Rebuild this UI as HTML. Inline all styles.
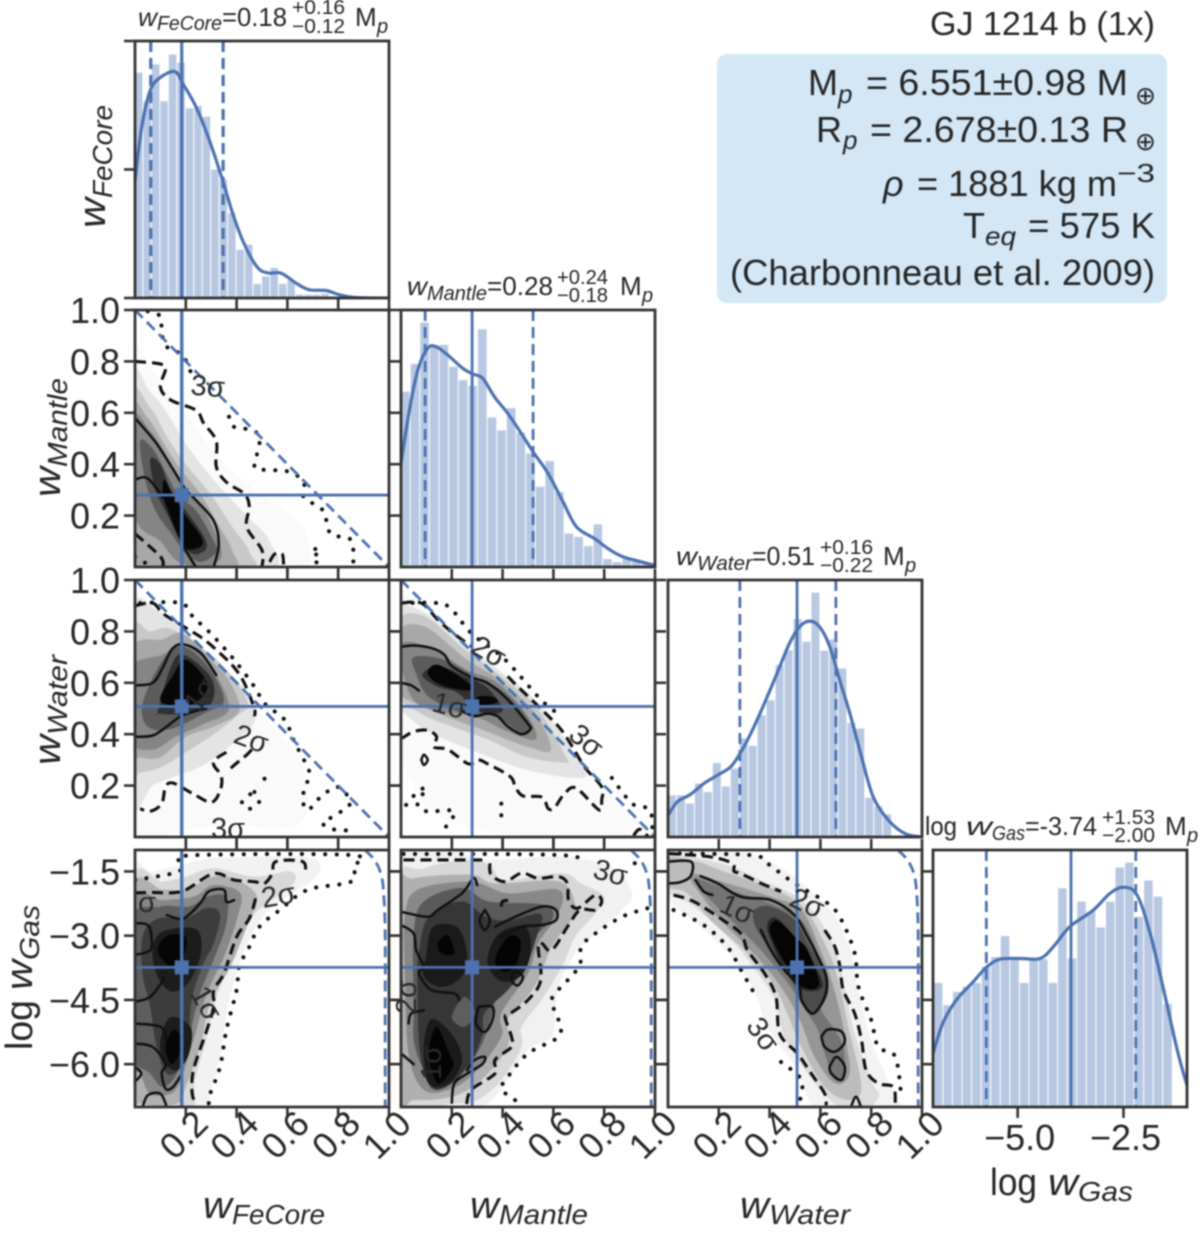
<!DOCTYPE html>
<html lang="en">
<head>
<meta charset="utf-8">
<title>GJ 1214 b corner plot</title>
<style>
html,body{margin:0;padding:0;background:#fff;}
#figure{display:block;width:1200px;height:1234px;filter:blur(0.7px);}
text{font-family:"Liberation Sans","DejaVu Sans",sans-serif;fill:#262626;}
.it{font-style:italic;}
.t26{font-size:26px;}
.t19{font-size:20px;}
.l38{font-size:38px;}
.l28{font-size:28px;}
.box{font-size:36px;}
.boxsub{font-size:26px;font-style:italic;}
.sig{font-size:29px;fill:#2a2a2a;}
</style>
</head>
<body>
<svg id="figure" xmlns="http://www.w3.org/2000/svg" width="1200" height="1234" viewBox="0 0 1200 1234">
<rect x="0" y="0" width="1200" height="1234" fill="#ffffff"/>
<g id="chart-layer"></g>

<g>
<text class="it t26" x="138" y="26" textLength="19" lengthAdjust="spacingAndGlyphs">w</text>
<text class="it t19" x="157" y="30" textLength="65" lengthAdjust="spacingAndGlyphs">FeCore</text>
<text class="t26" x="222" y="26" textLength="65" lengthAdjust="spacingAndGlyphs">=0.18</text>
<text class="t19" x="292" y="14" textLength="53" lengthAdjust="spacingAndGlyphs">+0.16</text>
<text class="t19" x="292" y="33" textLength="53" lengthAdjust="spacingAndGlyphs">−0.12</text>
<text class="t26" x="355" y="26">M</text>
<text class="it t19" x="377" y="33">p</text>
</g>
<g>
<text class="it t26" x="407" y="295" textLength="20" lengthAdjust="spacingAndGlyphs">w</text>
<text class="it t19" x="427" y="300" textLength="60" lengthAdjust="spacingAndGlyphs">Mantle</text>
<text class="t26" x="487" y="295" textLength="66" lengthAdjust="spacingAndGlyphs">=0.28</text>
<text class="t19" x="557" y="284" textLength="51" lengthAdjust="spacingAndGlyphs">+0.24</text>
<text class="t19" x="557" y="302" textLength="51" lengthAdjust="spacingAndGlyphs">−0.18</text>
<text class="t26" x="620" y="295">M</text>
<text class="it t19" x="642" y="302">p</text>
</g>
<g>
<text class="it t26" x="676" y="565" textLength="21" lengthAdjust="spacingAndGlyphs">w</text>
<text class="it t19" x="697" y="570" textLength="55" lengthAdjust="spacingAndGlyphs">Water</text>
<text class="t26" x="752" y="565" textLength="63" lengthAdjust="spacingAndGlyphs">=0.51</text>
<text class="t19" x="820" y="554" textLength="53" lengthAdjust="spacingAndGlyphs">+0.16</text>
<text class="t19" x="820" y="572" textLength="53" lengthAdjust="spacingAndGlyphs">−0.22</text>
<text class="t26" x="883" y="565">M</text>
<text class="it t19" x="905" y="572">p</text>
</g>
<g>
<text class="t26" x="925" y="835" textLength="32" lengthAdjust="spacingAndGlyphs">log</text>
<text class="it t26" x="966" y="835" textLength="26" lengthAdjust="spacingAndGlyphs">w</text>
<text class="it t19" x="992" y="840" textLength="33" lengthAdjust="spacingAndGlyphs">Gas</text>
<text class="t26" x="1025" y="835" textLength="72" lengthAdjust="spacingAndGlyphs">=-3.74</text>
<text class="t19" x="1102" y="824" textLength="53" lengthAdjust="spacingAndGlyphs">+1.53</text>
<text class="t19" x="1102" y="842" textLength="53" lengthAdjust="spacingAndGlyphs">−2.00</text>
<text class="t26" x="1165" y="835">M</text>
<text class="it t19" x="1187" y="842">p</text>
</g>

<g transform="translate(105,228) rotate(-90)">
<text class="it l38" x="0" y="0" textLength="30" lengthAdjust="spacingAndGlyphs">w</text>
<text class="it l28" x="30" y="7" textLength="93" lengthAdjust="spacingAndGlyphs">FeCore</text>
</g>
<g transform="translate(60,497) rotate(-90)">
<text class="it l38" x="0" y="0" textLength="30" lengthAdjust="spacingAndGlyphs">w</text>
<text class="it l28" x="30" y="7" textLength="89" lengthAdjust="spacingAndGlyphs">Mantle</text>
</g>
<g transform="translate(60,765) rotate(-90)">
<text class="it l38" x="0" y="0" textLength="30" lengthAdjust="spacingAndGlyphs">w</text>
<text class="it l28" x="30" y="7" textLength="80" lengthAdjust="spacingAndGlyphs">Water</text>
</g>
<g transform="translate(32,1050) rotate(-90)">
<text class="l38" x="0" y="0" textLength="50" lengthAdjust="spacingAndGlyphs">log</text>
<text class="it l38" x="60" y="0" textLength="30" lengthAdjust="spacingAndGlyphs">w</text>
<text class="it l28" x="90" y="7" textLength="55" lengthAdjust="spacingAndGlyphs">Gas</text>
</g>

<g>
<text class="it l38" x="203" y="1218" textLength="29" lengthAdjust="spacingAndGlyphs">w</text>
<text class="it l28" x="232" y="1224" textLength="93" lengthAdjust="spacingAndGlyphs">FeCore</text>
</g>
<g>
<text class="it l38" x="470" y="1218" textLength="29" lengthAdjust="spacingAndGlyphs">w</text>
<text class="it l28" x="499" y="1224" textLength="89" lengthAdjust="spacingAndGlyphs">Mantle</text>
</g>
<g>
<text class="it l38" x="740" y="1218" textLength="29" lengthAdjust="spacingAndGlyphs">w</text>
<text class="it l28" x="769" y="1224" textLength="81" lengthAdjust="spacingAndGlyphs">Water</text>
</g>
<g>
<text class="l38" x="990" y="1195" textLength="47" lengthAdjust="spacingAndGlyphs">log</text>
<text class="it l38" x="1048" y="1195" textLength="30" lengthAdjust="spacingAndGlyphs">w</text>
<text class="it l28" x="1078" y="1201" textLength="55" lengthAdjust="spacingAndGlyphs">Gas</text>
</g>

<text x="930" y="35" font-size="33" textLength="225" lengthAdjust="spacingAndGlyphs">GJ 1214 b (1x)</text>
<g>
<rect x="717" y="54" width="450" height="249" rx="10" ry="10" fill="#d3e7f6"/>
<g>
<text class="box" x="808" y="95">M</text>
<text class="boxsub" x="838" y="103">p</text>
<text class="box" x="866" y="95" textLength="262" lengthAdjust="spacingAndGlyphs">= 6.551±0.98 M</text>
<text x="1135" y="104" font-size="25" style="font-family:'DejaVu Sans',sans-serif">⊕</text>
</g>
<g>
<text class="box" x="816" y="142">R</text>
<text class="boxsub" x="843" y="149">p</text>
<text class="box" x="870" y="142" textLength="258" lengthAdjust="spacingAndGlyphs">= 2.678±0.13 R</text>
<text x="1135" y="150" font-size="25" style="font-family:'DejaVu Sans',sans-serif">⊕</text>
</g>
<g>
<text class="box it" x="883" y="196">ρ</text>
<text class="box" x="917" y="196" textLength="200" lengthAdjust="spacingAndGlyphs">= 1881 kg m</text>
<text x="1117" y="182" font-size="26" textLength="38" lengthAdjust="spacingAndGlyphs">−3</text>
</g>
<g>
<text class="box" x="963" y="238">T</text>
<text class="boxsub" x="985" y="245" textLength="31" lengthAdjust="spacingAndGlyphs">eq</text>
<text class="box" x="1028" y="238" textLength="127" lengthAdjust="spacingAndGlyphs">= 575 K</text>
</g>
<text class="box" x="730" y="285" textLength="425" lengthAdjust="spacingAndGlyphs">(Charbonneau et al. 2009)</text>
</g>

<g>
<text class="sig" text-anchor="middle" transform="translate(207,396) rotate(5)">3σ</text>
<text class="sig" text-anchor="middle" transform="translate(208,700) rotate(-55)">1σ</text>
<text class="sig" text-anchor="middle" transform="translate(248,748) rotate(20)">2σ</text>
<text class="sig" text-anchor="middle" transform="translate(228,838)">3σ</text>
<text class="sig" text-anchor="middle" transform="translate(484,660) rotate(30)">2σ</text>
<text class="sig" text-anchor="middle" transform="translate(447,715) rotate(15)">1σ</text>
<text class="sig" text-anchor="middle" transform="translate(580,748) rotate(40)">3σ</text>
<text class="sig" text-anchor="middle" transform="translate(147,912)">σ</text>
<text class="sig" text-anchor="middle" transform="translate(280,905) rotate(-10)">2σ</text>
<text class="sig" text-anchor="middle" transform="translate(198,1008) rotate(60)">1σ</text>
<text class="sig" text-anchor="middle" transform="translate(608,882) rotate(15)">3σ</text>
<text class="sig" text-anchor="middle" transform="translate(416,997) rotate(-90)">2σ</text>
<text class="sig" text-anchor="middle" transform="translate(441,1063) rotate(-90)">1σ</text>
<text class="sig" text-anchor="middle" transform="translate(803,912) rotate(25)">2σ</text>
<text class="sig" text-anchor="middle" transform="translate(733,918) rotate(25)">1σ</text>
<text class="sig" text-anchor="middle" transform="translate(755,1040) rotate(55)">3σ</text>
</g>
</svg>

<script>
const feCoreStats = [0.184, 0.062, 0.347];
const mantleStats = [0.28, 0.095, 0.52];
const waterStats = [0.508, 0.283, 0.661];
const gasStats = [-3.74, -5.74, -2.21];

/* ---------- tick values and labels ---------- */
const fractionTicks = [0.2, 0.4, 0.6, 0.8, 1.0];
const fractionTickLabels = ['0.2', '0.4', '0.6', '0.8', '1.0'];
const gasYTicks = [-1.5, -3.0, -4.5, -6.0];
const gasYTickLabels = ['−1.5', '−3.0', '−4.5', '−6.0'];
const gasXTicks = [-5.0, -2.5];
const gasXTickLabels = ['−5.0', '−2.5'];
const feCoreDensityTicks = [0, 0.5, 1];

/* ---------- histograms: bin start, bin width, bar values ---------- */
const feCoreBinStart = 0;
const feCoreBinWidth = 0.03333;
const feCoreBars = [.877,.766,.909,.766,.948,.916,.738,.747,.705,.5,.46,.33,.188,.208,.055,.084,.117,.055,.068,.013,.013,.013,.016,.006,.003];
const feCoreKdeX = [0,.026,.059,.098,.157,.19,.242,.294,.346,.386,.431,.484,.529,.575,.634,.686,.752,.804,.856,.948,1];
const feCoreKdeY = [.455,.662,.805,.857,.881,.831,.74,.61,.455,.325,.208,.117,.097,.097,.058,.032,.029,.013,.003,0,0];

const mantleBinStart = 0;
const mantleBinWidth = 0.0379;
const mantleBars = [.682,.79,.951,.864,.864,.779,.727,.705,.925,.582,.532,.618,.523,.442,.312,.412,.292,.13,.117,.081,.166,.031,.019,.036,.026,.013];
const mantleKdeX = [0,.033,.066,.105,.138,.184,.243,.283,.322,.368,.421,.474,.52,.579,.638,.691,.763,.816,.868,.934,1];
const mantleKdeY = [.403,.61,.766,.851,.857,.825,.773,.751,.734,.662,.597,.519,.448,.364,.253,.156,.11,.071,.042,.023,.006];

const waterBinStart = 0;
const waterBinWidth = 0.0353;
const waterBars = [.162,.162,.13,.208,.175,.288,.197,.266,.383,.355,.474,.532,.669,.727,.848,.76,.951,.725,.769,.656,.444,.422,.153,.119,.088];
const waterKdeX = [0,.036,.089,.141,.194,.247,.287,.326,.379,.432,.478,.518,.557,.597,.637,.676,.716,.762,.808,.868,.934,1];
const waterKdeY = [.084,.136,.166,.208,.24,.273,.331,.403,.519,.643,.753,.818,.84,.818,.74,.61,.481,.312,.156,.065,.013,0];

const gasBinStart = -6.98;
const gasBinWidth = 0.2258;
const gasBars = [.483,.396,.448,.468,.483,.545,.584,.665,.584,.483,.575,.575,.483,.851,.578,.799,.76,.699,.799,.932,.951,.74,.881,.818,.4];
const gasKdeX = [-7,-6.77,-6.45,-6.05,-5.73,-5.42,-4.95,-4.47,-4.16,-3.77,-3.21,-2.82,-2.5,-2.18,-1.87,-1.55,-1.23,-1];
const gasKdeY = [.208,.325,.416,.487,.545,.575,.578,.578,.623,.701,.766,.831,.855,.825,.675,.455,.221,.084];

/* ---------- composition boundaries ---------- */
const linearBoundary = [[0,1],[1,0]];
const gasBoundary = [[.905,-1],[.945,-1.25],[.97,-1.6],[.98,-2.1],[.985,-3],[.985,-5],[.985,-7]];

/* ---------- panel: mantle vs FeCore ---------- */
const mantleFeCoreLevels = [
 [[[-.02,.82],[.1,.72],[.2,.6],[.3,.46],[.4,.36],[.5,.28],[.62,.2],[.68,.1],[.62,-.02],[-.02,-.02]]],
 [[[-.02,.74],[.06,.68],[.12,.61],[.2,.48],[.3,.35],[.42,.22],[.53,.1],[.52,-.02],[-.02,-.02]]],
 [[[-.02,.66],[.06,.62],[.13,.5],[.2,.4],[.3,.28],[.38,.16],[.45,.06],[.44,-.02],[-.02,-.02]]],
 [[[-.02,.62],[.05,.58],[.12,.47],[.18,.38],[.26,.28],[.33,.16],[.38,.07],[.38,-.02],[.02,-.02],[-.02,.1]]],
 [[[-.01,.58],[.06,.53],[.12,.44],[.18,.32],[.26,.24],[.32,.12],[.34,.04],[.28,0],[.17,.02],[.1,.1],[0,.2]]],
 [[[.02,.49],[.07,.46],[.12,.37],[.17,.28],[.24,.22],[.3,.12],[.32,.06],[.26,.02],[.2,.05],[.15,.12],[.08,.22],[.04,.34]]],
 [[[.06,.42],[.1,.4],[.14,.3],[.2,.22],[.27,.12],[.28,.07],[.23,.05],[.18,.1],[.13,.2],[.08,.3]]],
 [[[.115,.34],[.15,.28],[.2,.2],[.26,.12],[.26,.08],[.2,.07],[.17,.12],[.13,.22],[.11,.28]]]
];
const mantleFeCoreSolid = [
 [[0,.58],[.085,.48],[.15,.38],[.2,.3],[.24,.26],[.31,.18],[.33,.09],[.31,0]],
 [[0,.34],[.05,.345],[.11,.27]],
 [[.18,.1],[.22,.03],[.24,0]]
];
const mantleFeCoreDashed = [
 [[0,.8],[.1,.79],[.12,.77],[.1,.7],[.14,.65],[.24,.61],[.27,.56],[.32,.49],[.32,.39],[.36,.33],[.43,.285],[.45,.235],[.44,.155],[.5,.065],[.5,0]],
 [[0,.13],[.1,.04],[.11,0]],
 [[.53,.02],[.55,.05],[.58,.05],[.585,0]]
];
const mantleFeCoreDotted = [
 [[.05,.995],[.1,.975],[.105,.91],[.125,.857],[.19,.82],[.23,.73]],
 [[.37,.585],[.39,.545],[.47,.53],[.49,.48],[.47,.4],[.49,.38],[.61,.37],[.665,.325],[.665,.27],[.74,.22],[.77,.13],[.85,.105],[.86,.01]],
 [[0,.04],[.05,.01]],
 [[.71,.07],[.73,.05],[.7,.045],[.72,.01]]
];

/* ---------- panel: water vs FeCore ---------- */
const waterFeCoreLevels = [
 [[[-.02,.9],[.08,.88],[.2,.76],[.32,.64],[.45,.52],[.55,.42],[.65,.3],[.68,.18],[.66,.06],[.55,.03],[.4,.05],[.3,.04],[.15,.02],[-.02,0]]],
 [[[-.02,.87],[.09,.88],[.19,.8],[.33,.68],[.46,.54],[.47,.45],[.38,.36],[.27,.28],[.17,.24],[.07,.2],[-.02,.13]]],
 [[[-.02,.8],[.06,.8],[.14,.81],[.27,.73],[.37,.64],[.445,.52],[.4,.47],[.31,.4],[.2,.33],[.1,.27],[.02,.25],[-.02,.24]]],
 [[[-.02,.72],[.11,.77],[.19,.79],[.3,.69],[.375,.6],[.41,.49],[.31,.43],[.2,.39],[.1,.31],[.02,.31],[-.02,.32]]],
 [[[-.02,.65],[.11,.71],[.2,.75],[.3,.66],[.37,.5],[.27,.44],[.16,.39],[.07,.34],[-.02,.38]]],
 [[[.03,.52],[.11,.69],[.19,.74],[.29,.66],[.35,.53],[.27,.48],[.14,.42],[.05,.43]]],
 [[[.09,.49],[.14,.66],[.19,.71],[.3,.62],[.3,.52],[.2,.48],[.09,.48]]],
 [[[.1,.53],[.15,.63],[.2,.69],[.28,.61],[.27,.55],[.2,.51]]]
];
const waterFeCoreSolid = [
 [[0,.59],[.07,.6],[.11,.66],[.145,.73],[.19,.75],[.26,.715],[.32,.63]],
 [[0,.39],[.07,.395],[.125,.43],[.18,.47],[.24,.49],[.28,.5]]
];
const waterFeCoreDashed = [
 [[0,.9],[.07,.91],[.11,.87],[.19,.82],[.27,.77],[.34,.71],[.39,.66],[.43,.6],[.47,.5],[.47,.47]],
 [[.46,.34],[.44,.32],[.38,.27],[.37,.25]],
 [[.36,.33],[.32,.305],[.31,.28],[.34,.235],[.335,.18],[.3,.135],[.225,.17],[.15,.21],[.12,.195],[.105,.13],[.06,.1],[.02,.11]]
];
const waterFeCoreDotted = [
 [[.02,.91],[.18,.91],[.23,.855],[.3,.79],[.39,.69],[.47,.585],[.51,.52],[.59,.455],[.625,.375],[.68,.27],[.685,.235],[.66,.155],[.68,.105],[.73,.155],[.795,.195],[.84,.155],[.84,.12],[.755,.065],[.74,.05],[.78,.03],[.85,.025]],
 [[.47,.175],[.49,.14],[.455,.11],[.42,.13],[.445,.16],[.47,.175]],
 [[.51,.227],[.512,.224]]
];

/* ---------- panel: water vs mantle ---------- */
const waterMantleLevels = [
 [[[-.02,.9],[.1,.9],[.24,.78],[.4,.66],[.54,.52],[.7,.31],[.83,.155],[1,0],[.9,-.02],[.6,0],[.35,.02],[.13,.09],[.05,.2],[-.02,.4]]],
 [[[-.02,.87],[.08,.88],[.24,.755],[.37,.66],[.54,.52],[.71,.28],[.705,.23],[.5,.26],[.3,.33],[.15,.39],[.05,.45],[-.02,.55]]],
 [[[-.02,.83],[.09,.86],[.25,.73],[.38,.635],[.53,.51],[.65,.31],[.64,.29],[.5,.31],[.34,.38],[.2,.43],[.08,.48],[-.02,.57]]],
 [[[-.02,.79],[.09,.82],[.26,.69],[.39,.61],[.53,.48],[.59,.34],[.5,.35],[.34,.41],[.2,.46],[.08,.51],[-.02,.58]]],
 [[[0,.745],[.12,.735],[.26,.65],[.38,.6],[.5,.47],[.53,.38],[.42,.41],[.29,.47],[.15,.49],[.04,.545]]],
 [[[.05,.7],[.17,.69],[.29,.625],[.41,.56],[.51,.44],[.48,.4],[.37,.47],[.25,.48],[.11,.545],[.06,.635]]],
 [[[.11,.655],[.17,.66],[.25,.625],[.34,.58],[.4,.49],[.3,.49],[.225,.56],[.145,.585],[.085,.625]]],
 [[[.105,.635],[.145,.67],[.265,.6],[.265,.57],[.16,.59]],[[.3,.545],[.36,.545],[.38,.525],[.31,.51]]]
];
const waterMantleSolid = [
 [[0,.74],[.05,.745],[.12,.735],[.17,.71],[.2,.665],[.28,.62],[.34,.6],[.42,.535],[.5,.44],[.51,.42],[.475,.4],[.42,.43],[.38,.47],[.34,.48],[.29,.47],[.24,.49]],
 [[0,.6],[.04,.59],[.07,.57]],
 [[.08,.3],[.09,.32],[.105,.3],[.09,.28],[.08,.3]]
];
const waterMantleDashed = [
 [[0,.91],[.08,.91],[.145,.845],[.21,.79],[.28,.74]],
 [[.42,.625],[.46,.585],[.555,.495],[.62,.43],[.66,.375],[.725,.27],[.79,.195],[.79,.145],[.78,.105],[.69,.19],[.645,.17],[.605,.115],[.58,.11],[.555,.155],[.48,.16],[.45,.195],[.43,.235],[.34,.285],[.305,.3],[.265,.285],[.185,.34],[.13,.35],[.14,.39],[.105,.415],[.05,.41],[.005,.385]],
 [[.915,.005],[.94,.03],[.975,0]]
];
const waterMantleDotted = [
 [[0,.91],[.145,.91],[.2,.885],[.28,.79],[.41,.69],[.555,.53],[.635,.47]],
 [[.83,.23],[.91,.13],[.98,.105],[.99,.01]],
 [[.02,.125],[.065,.175],[.1,.19],[.065,.13],[.1,.1],[.21,.1],[.17,.03],[.16,.005]],
 [[.395,.13],[.395,.105],[.395,.07]]
];

/* ---------- panel: gas vs FeCore ---------- */
const gasFeCoreLevels = [
 [[[-.02,-1.75],[.07,-1.51],[.19,-1.35],[.31,-1.19],[.665,-1.16],[.73,-1.39],[.7,-1.7],[.6,-2.09],[.52,-2.44],[.454,-3.03],[.4,-3.88],[.36,-4.82],[.335,-5.83],[.296,-6.69],[.27,-7.2],[-.02,-7.2]]],
 [[[-.02,-1.85],[.11,-1.74],[.2,-1.62],[.31,-1.43],[.47,-1.62],[.61,-1.5],[.625,-1.78],[.52,-2.25],[.47,-2.5],[.415,-3.1],[.355,-3.88],[.31,-4.66],[.28,-5.44],[.236,-6.38],[.215,-7.2],[-.02,-7.2]]],
 [[[-.02,-2.0],[.11,-1.93],[.2,-1.93],[.31,-1.62],[.4,-1.7],[.48,-2.09],[.44,-2.79],[.375,-3.73],[.296,-4.58],[.256,-5.6],[.2,-6.53],[.165,-6.92],[.02,-6.92],[-.02,-6.6]]],
 [[[-.02,-2.25],[.11,-2.17],[.23,-2.09],[.31,-1.82],[.415,-2.01],[.4,-2.64],[.35,-3.49],[.283,-4.35],[.23,-5.44],[.18,-6.37],[.14,-6.69],[.06,-6.69],[.02,-6.22],[-.02,-5.8]]],
 [[[-.02,-2.7],[.1,-2.32],[.215,-2.32],[.283,-2.09],[.36,-2.09],[.36,-2.71],[.32,-3.41],[.256,-4.35],[.21,-5.44],[.165,-6.22],[.11,-6.53],[.06,-6.22],[-.02,-5.6]]],
 [[[.03,-3.0],[.09,-2.6],[.2,-2.6],[.283,-2.35],[.335,-2.5],[.31,-3.18],[.27,-3.65],[.225,-4.43],[.21,-5.36],[.18,-6.06],[.125,-6.22],[.085,-5.6],[.06,-4.66],[.03,-3.9]]],
 [[[.07,-3.3],[.11,-2.9],[.24,-2.85],[.26,-3.41],[.21,-4.1],[.14,-4.3],[.085,-3.9]],[[.1,-5.44],[.14,-4.9],[.22,-5.15],[.21,-5.8],[.16,-6.15],[.11,-5.9]]],
 [[[.09,-3.26],[.13,-2.99],[.2,-3.03],[.19,-3.5],[.14,-3.7],[.1,-3.5]],[[.12,-5.6],[.15,-5.2],[.19,-5.44],[.17,-5.83],[.14,-5.99]]]
];
const gasFeCoreSolid = [
 [[0,-2.71],[.05,-2.75],[.065,-3.03],[.06,-3.34],[0,-3.45]],
 [[.125,-2.52],[.19,-2.6],[.256,-2.25],[.29,-1.97],[.35,-1.93],[.36,-2.21],[.39,-2.17]],
 [[0,-4.54],[.06,-4.43],[.11,-4.04],[.11,-3.96]],
 [[0,-5.05],[.1,-5.13],[.125,-5.44]],
 [[0,-5.52],[.07,-5.6],[.12,-6.0],[.105,-6.2],[.12,-6.57],[.15,-6.53],[.185,-6.22]],
 [[0,-6.06],[.025,-6.22],[0,-6.41]],
 [[.03,-7],[.05,-6.73],[.1,-6.69],[.125,-7]]
];
const gasFeCoreDashed = [
 [[0,-2.0],[.07,-1.99],[.14,-2.0],[.2,-1.93],[.31,-1.55],[.39,-1.7],[.47,-1.74],[.51,-1.78],[.54,-1.55],[.555,-1.27],[.66,-1.27],[.67,-1.55]],
 [[.475,-2.13],[.45,-2.6],[.4,-3.03],[.35,-3.88],[.31,-4.27],[.31,-4.66],[.283,-5.2],[.23,-6.14],[.225,-6.69],[.24,-6.92]]
];
const gasFeCoreDotted = [
 [[0,-1.7],[.17,-1.51],[.17,-1.27],[.24,-1.12],[.85,-1.12],[.86,-1.39],[.85,-1.74],[.68,-1.93],[.57,-2.4],[.49,-2.79],[.45,-3.26],[.41,-3.73],[.4,-4.27],[.36,-5.2],[.335,-6.06],[.296,-6.69],[.29,-6.92]]
];

/* ---------- panel: gas vs mantle ---------- */
const gasMantleLevels = [
 [[[-.02,-1.2],[.34,-1.23],[.63,-1.16],[.83,-1.39],[.91,-2.01],[.87,-2.4],[.765,-2.95],[.686,-3.41],[.62,-4.19],[.607,-4.97],[.594,-5.36],[.5,-5.67],[.42,-6.37],[.37,-6.76],[.277,-7.05],[-.02,-7.05]]],
 [[[-.02,-1.95],[.09,-1.43],[.277,-1.23],[.355,-1.39],[.41,-1.7],[.63,-1.54],[.71,-1.78],[.8,-2.09],[.765,-2.48],[.686,-3.03],[.633,-3.73],[.554,-4.5],[.475,-5.13],[.475,-5.6],[.395,-6.37],[.3,-6.84],[.2,-6.92],[-.02,-6.95]]],
 [[[-.02,-2.0],[.05,-1.66],[.277,-1.58],[.37,-1.78],[.62,-1.73],[.686,-2.25],[.67,-2.64],[.593,-3.26],[.54,-4.04],[.475,-4.58],[.42,-4.97],[.42,-5.6],[.316,-6.37],[.2,-6.76],[.05,-6.84],[-.02,-6.75]]],
 [[[.015,-2.56],[.065,-1.93],[.277,-1.74],[.42,-2.01],[.62,-1.93],[.62,-2.48],[.54,-3.18],[.5,-3.88],[.395,-4.82],[.395,-5.36],[.3,-6.14],[.2,-6.57],[.09,-6.6],[.03,-5.75],[.015,-3.88]]],
 [[[.05,-2.95],[.09,-2.2],[.24,-1.88],[.345,-2.2],[.555,-2.27],[.6,-2.56],[.53,-3.03],[.475,-3.73],[.38,-4.43],[.34,-5.2],[.29,-5.83],[.2,-6.35],[.12,-6.4],[.055,-5.6],[.05,-4.66]]],
 [[[.07,-3.41],[.11,-2.55],[.24,-2.2],[.33,-2.55],[.42,-2.65],[.55,-2.5],[.53,-3.1],[.49,-3.73],[.42,-4.27],[.33,-4.8],[.32,-5.3],[.28,-5.9],[.2,-6.45],[.12,-6.55],[.075,-5.75],[.065,-4.2]]],
 [[[.25,-4.43],[.29,-4.8],[.25,-5.13],[.2,-4.9]]],
 [[[.1,-3.45],[.125,-2.8],[.22,-2.8],[.26,-3.41],[.24,-3.95],[.16,-4.2],[.09,-3.95]],[[.34,-3.6],[.385,-2.95],[.49,-2.8],[.51,-3.41],[.47,-3.95],[.39,-4.05]],[[.09,-5.6],[.12,-4.95],[.2,-5.3],[.24,-5.9],[.19,-6.45],[.11,-6.45]]],
 [[[.145,-3.18],[.185,-2.99],[.21,-3.41],[.16,-3.41]],[[.37,-3.57],[.42,-3.03],[.47,-3.1],[.455,-3.65],[.41,-3.85]],[[.11,-5.75],[.14,-5.13],[.19,-5.75],[.205,-6.06],[.145,-6.45]]]
];
const gasMantleSolid = [
 [[0,-2.44],[.105,-2.56],[.145,-2.4],[.24,-2.01],[.285,-1.66],[.3,-1.82]],
 [[0,-2.75],[.05,-2.95],[.06,-3.34],[.09,-3.73],[.07,-3.88],[.12,-4.27],[.21,-4.35],[.23,-4.5]],
 [[.33,-2.4],[.35,-2.64],[.33,-2.87],[.31,-2.64],[.33,-2.4]],
 [[.37,-2.79],[.45,-2.56],[.555,-2.32],[.61,-2.4],[.61,-2.64],[.555,-2.75],[.475,-2.79],[.39,-3.03]],
 [[.45,-3.8],[.48,-3.96],[.46,-4.16],[.435,-4.04],[.45,-3.8]],
 [[.305,-4.66],[.36,-4.66],[.36,-4.97],[.33,-5.25],[.295,-5.05],[.305,-4.66]],
 [[0,-5.75],[.05,-6.0]],
 [[.03,-5.05],[.04,-4.82],[.09,-4.74]],
 [[.2,-6.9],[.21,-6.45],[.26,-6.22],[.32,-6.0],[.33,-5.83],[.29,-5.9],[.26,-6.14]]
];
const gasMantleDashed = [
 [[.01,-1.23],[.32,-1.23]],
 [[.35,-1.31],[.355,-1.58],[.41,-1.74],[.475,-1.54],[.54,-1.66],[.62,-1.62],[.655,-1.78],[.66,-2.17],[.695,-2.36],[.765,-2.05],[.79,-2.2],[.765,-2.4],[.705,-2.4],[.66,-2.75],[.593,-3.34],[.555,-3.18],[.54,-3.26],[.55,-4.04],[.5,-4.5],[.43,-4.82],[.41,-4.9],[.435,-5.36],[.435,-5.6],[.37,-5.9],[.37,-6.22],[.277,-6.6],[.258,-6.96]],
 [[.395,-2.32],[.4,-2.2],[.435,-2.17]]
];
const gasMantleDotted = [
 [[.01,-1.09],[.63,-1.12],[.71,-1.31]],
 [[.97,-2.36],[.87,-2.56],[.765,-2.95],[.71,-3.26],[.7,-3.73],[.607,-4.35],[.594,-4.58],[.62,-4.97],[.62,-5.36],[.5,-5.75],[.42,-6.3],[.395,-6.57],[.43,-6.76],[.46,-6.88]],
 [[.92,-1.31],[.965,-1.31]]
];

/* ---------- panel: gas vs water ---------- */
const gasWaterLevels = [
 [[[-.02,-1.02],[.34,-1.12],[.604,-2.17],[.71,-3.18],[.75,-4.27],[.8,-5.44],[.86,-6.3],[.9,-7.1],[.6,-7.1],[.5,-6.06],[.39,-5.13],[.353,-4.5],[.273,-3.65],[.128,-2.79],[-.02,-2.0]]],
 [[[-.02,-1.15],[.207,-1.31],[.366,-1.7],[.525,-2.17],[.63,-2.95],[.683,-3.88],[.735,-5.29],[.8,-6.37],[.83,-6.76],[.76,-7.1],[.656,-6.92],[.55,-6.22],[.458,-5.36],[.42,-4.5],[.353,-3.88],[.26,-3.18],[.102,-2.32],[-.02,-1.9]]],
 [[[-.02,-1.2],[.1,-1.25],[.207,-1.47],[.5,-2.17],[.617,-3.18],[.67,-4.04],[.71,-5.13],[.762,-6.53],[.71,-6.84],[.617,-6.53],[.525,-5.6],[.458,-4.66],[.405,-4.04],[.3,-3.34],[.168,-2.64],[.075,-2.01],[-.02,-1.8]]],
 [[[.1,-1.55],[.235,-1.78],[.405,-2.09],[.525,-2.4],[.6,-3.34],[.655,-4.27],[.695,-5.29],[.715,-6.22],[.657,-6.45],[.577,-5.83],[.525,-5.05],[.47,-4.43],[.405,-3.88],[.313,-3.26],[.207,-2.64],[.115,-1.93],[.09,-1.7]]],
 [[[.115,-1.66],[.235,-1.93],[.405,-2.25],[.525,-2.64],[.59,-3.41],[.62,-4.04],[.6,-4.66],[.657,-5.2],[.69,-5.6],[.695,-6.22],[.657,-6.37],[.617,-5.75],[.59,-5.2],[.54,-4.73],[.47,-4.1],[.366,-3.34],[.26,-2.71],[.155,-2.09],[.115,-1.7]]],
 [[[.34,-2.4],[.405,-2.32],[.5,-2.64],[.56,-3.26],[.625,-3.88],[.625,-4.43],[.57,-4.82],[.525,-4.5],[.485,-4.04],[.405,-3.34],[.345,-2.79]]],
 [[[.39,-2.75],[.43,-2.6],[.52,-3.18],[.6,-3.96],[.6,-4.25],[.53,-4.25],[.46,-3.8],[.415,-3.26]]],
 [[[.4,-2.83],[.43,-2.65],[.5,-3.03],[.55,-3.34],[.595,-4.14],[.53,-4.2],[.47,-3.73],[.42,-3.2]]]
];
const gasWaterSolid = [
 [[0,-1.27],[.09,-1.27],[.09,-1.6],[.05,-1.75],[0,-1.78]],
 [[.128,-1.61],[.195,-1.78],[.287,-2.09],[.405,-2.17],[.498,-2.52],[.55,-3.03],[.59,-3.49],[.623,-3.96],[.617,-4.43],[.57,-4.82],[.525,-4.5],[.517,-4.2],[.458,-3.8],[.405,-3.34],[.366,-2.87]],
 [[.108,-1.7],[.14,-1.97],[.175,-2.05]],
 [[.604,-5.36],[.63,-5.19],[.683,-5.24],[.695,-5.5],[.657,-5.71],[.617,-5.6],[.604,-5.36]],
 [[.636,-6.06],[.663,-5.83],[.696,-6.06],[.683,-6.37],[.643,-6.22],[.636,-6.06]],
 [[.72,-7],[.74,-6.76],[.76,-7]]
];
const gasWaterDashed = [
 [[0,-1.08],[.167,-1.16],[.253,-1.31],[.26,-1.5],[.287,-1.55],[.366,-1.78],[.445,-1.97]],
 [[.617,-2.87],[.657,-3.26],[.677,-3.73],[.69,-4.27],[.735,-4.82],[.762,-5.44],[.78,-6.14],[.828,-6.45],[.887,-6.53],[.895,-6.92]],
 [[.022,-2.05],[.1,-2.2],[.207,-2.6],[.287,-2.95],[.313,-3.34],[.38,-3.88],[.425,-4.43],[.44,-5.29],[.51,-5.75],[.564,-6.22],[.617,-6.69],[.623,-6.96]]
];
const gasWaterDotted = [
 [[0,-1.08],[.326,-1.12],[.39,-1.31],[.498,-1.78],[.63,-2.25],[.683,-2.64],[.735,-3.41],[.75,-4.2],[.8,-4.97],[.828,-5.6],[.895,-5.83],[.92,-6.84]],
 [[.022,-2.4],[.14,-2.75],[.234,-3.26],[.287,-3.8],[.34,-4.35]],
 [[.445,-5.95],[.525,-6.37],[.517,-6.92]]
];

/* ---------- layout and scales ---------- */
const NS = 'http://www.w3.org/2000/svg';
const layer = document.getElementById('chart-layer');
const colLeft = [135, 401, 668, 933];
const rowTop = [41, 310, 580, 850];
const PANEL_W = 254;
const PANEL_H = 257;
const TICK = 11;
const BLUE = '#4c72b0';
const INK = '#333333';
const BAR = '#b8c8e2';
const faintRamp = ['#fafafa','#e4e4e4','#c8c8c8','#a8a8a8','#858585','#5c5c5c','#303030','#070707'];
const shadeRamp = ['#f3f3f3','#dcdcdc','#bcbcbc','#969696','#747474','#4c4c4c','#282828','#050505'];
const gasFeCoreShades = ['#f2f2f2','#d8d8d8','#b0b0b0','#888888','#5e5e5e','#3c3c3c','#1c1c1c','#060606'];
const gasMantleShades = ['#f1f1f1','#d8d8d8','#b0b0b0','#888888','#5a5a5a','#363636','#5e5e5e','#1a1a1a','#040404'];
const fractionDomain = [0, 1];
const gasDomain = [-7, -1];
const xDomains = [fractionDomain, fractionDomain, fractionDomain, gasDomain];
const yDomains = [fractionDomain, fractionDomain, fractionDomain, gasDomain];

function xPos(col, v) {
  const d = xDomains[col];
  return colLeft[col] + (v - d[0]) / (d[1] - d[0]) * PANEL_W;
}
function yPos(row, v) {
  const d = yDomains[row];
  return rowTop[row] + PANEL_H - (v - d[0]) / (d[1] - d[0]) * PANEL_H;
}
function histY(row, v) {
  return rowTop[row] + PANEL_H - v * PANEL_H;
}
function shape(tag, attrs, parent) {
  const el = document.createElementNS(NS, tag);
  Object.keys(attrs).forEach(function (k) { el.setAttribute(k, attrs[k]); });
  parent.appendChild(el);
  return el;
}
function smoothPath(pts, closed) {
  const n = pts.length;
  if (n < 2) return '';
  let d = 'M' + pts[0][0].toFixed(1) + ' ' + pts[0][1].toFixed(1);
  const last = closed ? n : n - 1;
  for (let i = 0; i < last; i++) {
    const p0 = closed ? pts[(i - 1 + n) % n] : pts[Math.max(i - 1, 0)];
    const p1 = pts[i % n];
    const p2 = closed ? pts[(i + 1) % n] : pts[Math.min(i + 1, n - 1)];
    const p3 = closed ? pts[(i + 2) % n] : pts[Math.min(i + 2, n - 1)];
    const c1x = p1[0] + (p2[0] - p0[0]) / 6;
    const c1y = p1[1] + (p2[1] - p0[1]) / 6;
    const c2x = p2[0] - (p3[0] - p1[0]) / 6;
    const c2y = p2[1] - (p3[1] - p1[1]) / 6;
    d += 'C' + c1x.toFixed(1) + ' ' + c1y.toFixed(1) + ' ' + c2x.toFixed(1) + ' ' + c2y.toFixed(1) + ' ' + p2[0].toFixed(1) + ' ' + p2[1].toFixed(1);
  }
  return d + (closed ? 'Z' : '');
}
function clipFor(col, row) {
  const id = 'clip-' + col + '-' + row;
  const cp = shape('clipPath', { id: id }, layer);
  shape('rect', { x: colLeft[col], y: rowTop[row], width: PANEL_W, height: PANEL_H }, cp);
  return 'url(#' + id + ')';
}
function drawFrame(col, row, parent) {
  const frame = shape('rect', { x: colLeft[col], y: rowTop[row], width: PANEL_W, height: PANEL_H, fill: 'none', stroke: INK, 'stroke-width': 2.8 }, parent);
  
  
}
function drawTick(x1, y1, x2, y2, parent) {
  const t = shape('line', { x1: x1, y1: y1, x2: x2, y2: y2, stroke: INK, 'stroke-width': 2.6 }, parent);
  
  
}

/* ---------- 2D contour panels ---------- */
function drawContourLines(list, g, col, row, kind) {
  const styles = {
    solid: { width: 2.5, dash: null, cap: 'round' },
    dashed: { width: 3.1, dash: '11 6', cap: 'butt' },
    dotted: { width: 4, dash: '0.1 11.5', cap: 'round' }
  };
  const st = styles[kind];
  list.forEach(function (line) {
    const pts = line.map(function (p) { return [xPos(col, p[0]), yPos(row, p[1])]; });
    const attrs = { d: smoothPath(pts, false), fill: 'none', stroke: '#101010', 'stroke-width': st.width, 'stroke-linecap': st.cap };
    if (st.dash) attrs['stroke-dasharray'] = st.dash;
    const path = shape('path', attrs, g);
    
    
  });
}
function draw2D(col, row, levels, solid, dashed, dotted, boundary, xMed, yMed, shades) {
  const g = shape('g', {}, layer);
  
  
  const clip = clipFor(col, row);
  const inner = shape('g', { 'clip-path': clip }, g);
  
  
  levels.forEach(function (level, i) {
    level.forEach(function (poly) {
      const pts = poly.map(function (p) { return [xPos(col, p[0]), yPos(row, p[1])]; });
      const area = shape('path', { d: smoothPath(pts, true), fill: shades[i] }, inner);
      
      
    });
  });
  drawContourLines(dotted, inner, col, row, 'dotted');
  drawContourLines(dashed, inner, col, row, 'dashed');
  drawContourLines(solid, inner, col, row, 'solid');
  const bPts = boundary.map(function (p) { return [xPos(col, p[0]), yPos(row, p[1])]; });
  const bound = shape('path', { d: smoothPath(bPts, false), fill: 'none', stroke: BLUE, 'stroke-width': 2.8, 'stroke-dasharray': '11 6' }, inner);
  
  
  const lineWidth = col === 0 ? 3.4 : 2.8;
  const vLine = shape('line', { x1: xPos(col, xMed), x2: xPos(col, xMed), y1: rowTop[row], y2: rowTop[row] + PANEL_H, stroke: BLUE, 'stroke-width': lineWidth }, inner);
  
  
  const hLine = shape('line', { x1: colLeft[col], x2: colLeft[col] + PANEL_W, y1: yPos(row, yMed), y2: yPos(row, yMed), stroke: BLUE, 'stroke-width': 2.8 }, inner);
  
  
  const marker = shape('rect', { x: xPos(col, xMed) - 7, y: yPos(row, yMed) - 7, width: 14, height: 14, fill: BLUE }, inner);
  
  
  drawFrame(col, row, g);
  const yTicks = row === 3 ? gasYTicks : fractionTicks;
  fractionTicks.forEach(function (v) {
    const x = xPos(col, v);
    drawTick(x, rowTop[row] - TICK, x, rowTop[row], g);
    drawTick(x, rowTop[row] + PANEL_H, x, rowTop[row] + PANEL_H + TICK, g);
  });
  yTicks.forEach(function (v) {
    const y = yPos(row, v);
    drawTick(colLeft[col] - TICK, y, colLeft[col], y, g);
    drawTick(colLeft[col] + PANEL_W, y, colLeft[col] + PANEL_W + TICK, y, g);
  });
}

/* ---------- 1D histogram panels ---------- */
function drawHist(col, row, binStart, binWidth, bars, kdeX, kdeY, stats) {
  const g = shape('g', {}, layer);
  
  
  const clip = clipFor(col, row);
  const inner = shape('g', { 'clip-path': clip }, g);
  
  
  bars.forEach(function (v, i) {
    const x0 = xPos(col, binStart + i * binWidth);
    const x1 = xPos(col, binStart + (i + 1) * binWidth);
    const top = histY(row, v);
    const bar = shape('rect', { x: x0, y: top, width: Math.max(x1 - x0 - 1, 0.5), height: histY(row, 0) - top, fill: BAR }, inner);
    
    
  });
  stats.forEach(function (v, i) {
    const attrs = { x1: xPos(col, v), x2: xPos(col, v), y1: rowTop[row], y2: rowTop[row] + PANEL_H, stroke: BLUE, 'stroke-width': col === 0 ? 3.2 : 2.8 };
    if (i > 0) attrs['stroke-dasharray'] = '11 6';
    const line = shape('line', attrs, inner);
    
    
  });
  const pts = kdeX.map(function (v, i) { return [xPos(col, v), histY(row, kdeY[i])]; });
  const kde = shape('path', { d: smoothPath(pts, false), fill: 'none', stroke: BLUE, 'stroke-width': 3.2 }, inner);
  
  
  drawFrame(col, row, g);
}

/* ---------- tick labels ---------- */
function yTickLabels(row, values, labels) {
  values.forEach(function (v, i) {
    const t = shape('text', { x: 120, y: yPos(row, v) + 13, 'text-anchor': 'end', 'font-size': 36 }, layer);
    t.textContent = labels[i];
    
    
  });
}
function xTickLabels(col) {
  fractionTicks.forEach(function (v, i) {
    const x = xPos(col, v) - 2;
    const t = shape('text', { x: x, y: 1147, 'text-anchor': 'middle', 'font-size': 36, transform: 'rotate(-45 ' + x + ' 1135)' }, layer);
    t.textContent = fractionTickLabels[i];
    
    
  });
}

/* ---------- render ---------- */
drawHist(0, 0, feCoreBinStart, feCoreBinWidth, feCoreBars, feCoreKdeX, feCoreKdeY, feCoreStats);
drawHist(1, 1, mantleBinStart, mantleBinWidth, mantleBars, mantleKdeX, mantleKdeY, mantleStats);
drawHist(2, 2, waterBinStart, waterBinWidth, waterBars, waterKdeX, waterKdeY, waterStats);
drawHist(3, 3, gasBinStart, gasBinWidth, gasBars, gasKdeX, gasKdeY, gasStats);

draw2D(0, 1, mantleFeCoreLevels, mantleFeCoreSolid, mantleFeCoreDashed, mantleFeCoreDotted, linearBoundary, feCoreStats[0], mantleStats[0], faintRamp);
draw2D(0, 2, waterFeCoreLevels, waterFeCoreSolid, waterFeCoreDashed, waterFeCoreDotted, linearBoundary, feCoreStats[0], waterStats[0], faintRamp);
draw2D(1, 2, waterMantleLevels, waterMantleSolid, waterMantleDashed, waterMantleDotted, linearBoundary, mantleStats[0], waterStats[0], faintRamp);
draw2D(0, 3, gasFeCoreLevels, gasFeCoreSolid, gasFeCoreDashed, gasFeCoreDotted, gasBoundary, feCoreStats[0], gasStats[0], gasFeCoreShades);
draw2D(1, 3, gasMantleLevels, gasMantleSolid, gasMantleDashed, gasMantleDotted, gasBoundary, mantleStats[0], gasStats[0], gasMantleShades);
draw2D(2, 3, gasWaterLevels, gasWaterSolid, gasWaterDashed, gasWaterDotted, gasBoundary, waterStats[0], gasStats[0], shadeRamp);

feCoreDensityTicks.forEach(function (v) {
  drawTick(colLeft[0] - TICK, histY(0, v), colLeft[0], histY(0, v), layer);
});
gasXTicks.forEach(function (v, i) {
  drawTick(xPos(3, v), rowTop[3] + PANEL_H, xPos(3, v), rowTop[3] + PANEL_H + TICK, layer);
  const t = shape('text', { x: xPos(3, v) + 2, y: 1150, 'text-anchor': 'middle', 'font-size': 36 }, layer);
  t.textContent = gasXTickLabels[i];
  
  
});
yTickLabels(1, fractionTicks, fractionTickLabels);
yTickLabels(2, fractionTicks, fractionTickLabels);
yTickLabels(3, gasYTicks, gasYTickLabels);
xTickLabels(0);
xTickLabels(1);
xTickLabels(2);
</script>
</body>
</html>
